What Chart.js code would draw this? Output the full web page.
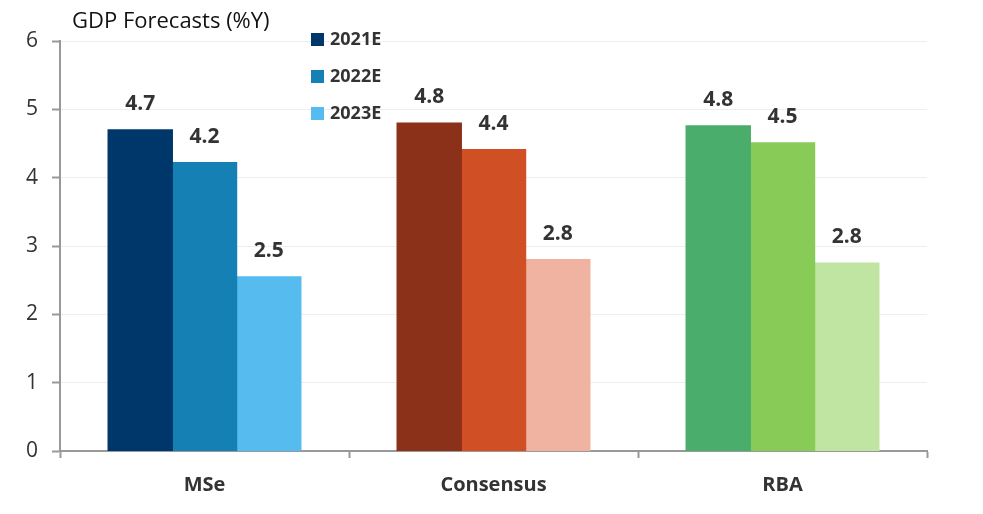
<!DOCTYPE html>
<html lang="en">
<head>
    <meta charset="UTF-8">
    <title>GDP Forecasts</title>
    <style>
        html, body { margin: 0; padding: 0; background: #fff; }
        #wrap { position: relative; width: 983px; height: 514px; }
    </style>
</head>
<body>
<div id="wrap">
    <canvas id="gdp" width="983" height="514"></canvas>
</div>

<script src="https://cdn.jsdelivr.net/npm/chart.js@4.4.0/dist/chart.umd.min.js"></script>
<script>
// data
const categories = ["MSe", "Consensus", "RBA"];
const seriesNames = ["2021E", "2022E", "2023E"];
const values2021 = [4.7, 4.8, 4.76];
const values2022 = [4.22, 4.41, 4.51];
const values2023 = [2.55, 2.8, 2.75];
const labels2021 = ["4.7", "4.8", "4.8"];
const labels2022 = ["4.2", "4.4", "4.5"];
const labels2023 = ["2.5", "2.8", "2.8"];
const yTicks = [0, 1, 2, 3, 4, 5, 6];

// one colour per bar: rows = series, cols = category
const colours = [
    ["#00376a", "#8c3119", "#4aad6b"],
    ["#1580b4", "#d14f24", "#88cc57"],
    ["#56bbee", "#f0b3a1", "#c0e4a1"],
];

const FONT = "'Open Sans', 'Noto Sans', sans-serif";
const allValues = [values2021, values2022, values2023];
const allLabels = [labels2021, labels2022, labels2023];

// value labels above each bar
const barLabels = {
    id: "barLabels",
    afterDatasetsDraw(chart) {
        const ctx = chart.ctx;
        ctx.save();
        ctx.font = "bold 21px " + FONT;
        ctx.fillStyle = "#333";
        ctx.textAlign = "center";
        ctx.textBaseline = "middle";
        chart.data.datasets.forEach((ds, i) => {
            chart.getDatasetMeta(i).data.forEach((bar, j) => {
                ctx.fillText(allLabels[i][j], bar.x, bar.y - 26);
            });
        });
        ctx.restore();
    }
};

// title + legend in the top area
const topText = {
    id: "topText",
    afterDraw(chart) {
        const ctx = chart.ctx;
        ctx.save();
        ctx.fillStyle = "#111";
        ctx.font = "22px " + FONT;
        ctx.textBaseline = "middle";
        ctx.textAlign = "left";
        ctx.fillText("GDP Forecasts (%Y)", 72, 22);

        ctx.font = "bold 18px " + FONT;
        const rows = [39, 76, 113];
        seriesNames.forEach((name, i) => {
            ctx.fillStyle = colours[i][0];
            ctx.fillRect(311, rows[i] - 6, 13, 13);
            ctx.fillStyle = "#333";
            ctx.fillText(name, 330, rows[i] + 1);
        });
        ctx.restore();
    }
};

new Chart("gdp", {
    type: "bar",
    data: {
        labels: categories,
        datasets: seriesNames.map((name, i) => ({
            label: name,
            data: allValues[i],
            backgroundColor: colours[i],
            borderWidth: 0,
            inflateAmount: 0.6,
            categoryPercentage: 0.667,
            barPercentage: 1.0,
        })),
    },
    options: {
        responsive: false,
        animation: false,
        layout: { padding: { top: 41, right: 56, left: 0, bottom: 0 } },
        plugins: {
            legend: { display: false },
            tooltip: { enabled: false },
        },
        scales: {
            x: {
                grid: {
                    display: true,
                    drawOnChartArea: false,
                    drawTicks: true,
                    tickLength: 7,
                    tickColor: "#999",
                    tickWidth: 2,
                },
                border: { color: "#999", width: 2 },
                ticks: {
                    padding: 15,
                    color: "#333",
                    font: { family: FONT, size: 20, weight: "bold" },
                },
                afterFit(scale) { scale.height = 63; },
            },
            y: {
                min: 0,
                max: 6,
                afterBuildTicks(scale) { scale.ticks = yTicks.map(v => ({ value: v })); },
                grid: {
                    color: "#eeeeee",
                    drawTicks: true,
                    tickLength: 8,
                    tickColor: "#999",
                    tickWidth: 2,
                },
                border: { color: "#999", width: 2 },
                ticks: {
                    padding: 14,
                    color: "#333",
                    font: { family: FONT, size: 21 },
                },
                afterFit(scale) { scale.width = 60; },
            },
        },
    },
    plugins: [barLabels, topText],
});
</script>
</body>
</html>
